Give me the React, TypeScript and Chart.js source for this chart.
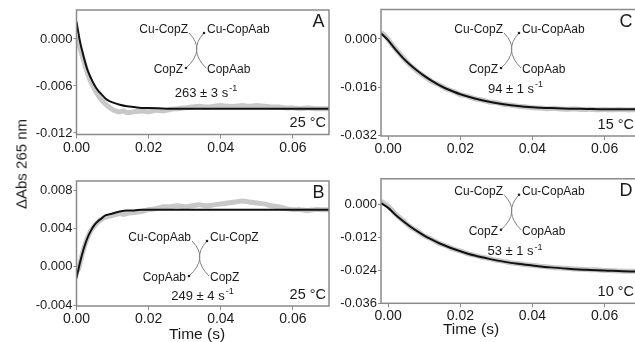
import { useEffect, useRef } from 'react';
import { Chart, registerables } from 'chart.js';
Chart.register(...registerables);

const FONT = "'Liberation Sans', Arial, Helvetica, sans-serif";

// ---------- data ----------
const tFitAB = [0, 0.001, 0.002, 0.003, 0.004, 0.005, 0.006, 0.007, 0.008, 0.009, 0.010, 0.012, 0.014, 0.016, 0.018, 0.020, 0.025, 0.030, 0.040, 0.050, 0.060, 0.070];
const fitA = [0.0022, -0.0004, -0.0023, -0.0039, -0.0050, -0.0059, -0.0066, -0.0071, -0.0076, -0.0079, -0.0081, -0.0084, -0.0086, -0.0087, -0.0088, -0.0088, -0.0089, -0.0089, -0.0089, -0.0089, -0.0089, -0.0089];
const fitB = [-0.0012, 0.0005, 0.0019, 0.0030, 0.0038, 0.0044, 0.0048, 0.0051, 0.0054, 0.0055, 0.0056, 0.0058, 0.0059, 0.0059, 0.0060, 0.0060, 0.0060, 0.0060, 0.0060, 0.0060, 0.0060, 0.0060];

const tDataAB = [0, 0.0005, 0.001, 0.0015, 0.002, 0.003, 0.004, 0.005, 0.006, 0.007, 0.008, 0.009, 0.010, 0.011, 0.012, 0.013, 0.014,
  0.016, 0.018, 0.020, 0.022, 0.024, 0.026, 0.028, 0.030, 0.032, 0.034, 0.036, 0.038, 0.040, 0.042, 0.044, 0.046, 0.048, 0.050,
  0.052, 0.054, 0.056, 0.058, 0.060, 0.062, 0.064, 0.066, 0.068, 0.070];
const dataA = [0.0003, -0.0006, -0.0012, -0.0020, -0.0028, -0.0043, -0.0055, -0.0064, -0.0072, -0.0078, -0.0083, -0.0087, -0.0090, -0.0092, -0.0093, -0.0092, -0.0094,
  -0.0093, -0.0092, -0.0093, -0.0091, -0.0092, -0.0090, -0.0089, -0.0088, -0.0087, -0.0086, -0.0087, -0.0086, -0.0085, -0.0086, -0.0086, -0.0085, -0.0086, -0.0085,
  -0.0086, -0.0087, -0.0087, -0.0088, -0.0088, -0.0089, -0.0088, -0.0089, -0.0089, -0.0089];
const dataB = [0.0002, -0.0003, 0.0004, 0.0012, 0.0019, 0.0030, 0.0038, 0.0043, 0.0047, 0.0050, 0.0052, 0.0053, 0.0054, 0.0055, 0.0056, 0.0055, 0.0056,
  0.0057, 0.0058, 0.0060, 0.0061, 0.0063, 0.0063, 0.0064, 0.0063, 0.0064, 0.0065, 0.0064, 0.0065, 0.0066, 0.0067, 0.0068, 0.0069, 0.0068, 0.0067,
  0.0066, 0.0064, 0.0063, 0.0061, 0.0060, 0.0060, 0.0059, 0.0060, 0.0060, 0.0060];

const tFitCD = [-0.002, 0, 0.002, 0.004, 0.006, 0.008, 0.010, 0.012, 0.014, 0.016, 0.018, 0.020, 0.024, 0.028, 0.032, 0.036, 0.040, 0.045, 0.050, 0.055, 0.060, 0.065, 0.070];
const fitC = [0.0019, -0.0005, -0.0035, -0.0062, -0.0085, -0.0105, -0.0123, -0.0139, -0.0153, -0.0165, -0.0175, -0.0184, -0.0198, -0.0209, -0.0217, -0.0223, -0.0227, -0.0230, -0.0232, -0.0233, -0.0234, -0.0234, -0.0234];
const fitD = [0.0005, -0.0012, -0.0037, -0.0059, -0.0079, -0.0097, -0.0113, -0.0127, -0.0140, -0.0151, -0.0161, -0.0170, -0.0186, -0.0198, -0.0208, -0.0216, -0.0222, -0.0229, -0.0234, -0.0238, -0.0240, -0.0243, -0.0244];

const tDataCD = [-0.002, -0.001, 0, 0.001, 0.002, 0.004, 0.006, 0.008, 0.010, 0.012, 0.014, 0.016, 0.018, 0.020, 0.022, 0.024, 0.026, 0.028, 0.030,
  0.032, 0.034, 0.036, 0.038, 0.040, 0.042, 0.044, 0.046, 0.048, 0.050, 0.052, 0.054, 0.056, 0.058, 0.060, 0.062, 0.064, 0.066, 0.068, 0.070];
const dataC = [0.0022, 0.0012, -0.0002, -0.0018, -0.0033, -0.0061, -0.0086, -0.0107, -0.0124, -0.0141, -0.0152, -0.0166, -0.0174, -0.0185, -0.0190, -0.0199, -0.0203, -0.0210, -0.0212,
  -0.0218, -0.0220, -0.0224, -0.0226, -0.0229, -0.0230, -0.0232, -0.0231, -0.0233, -0.0234, -0.0233, -0.0235, -0.0234, -0.0236, -0.0235, -0.0236, -0.0235, -0.0236, -0.0236, -0.0236];
const dataD = [0.0012, 0.0004, -0.0006, -0.0020, -0.0034, -0.0057, -0.0080, -0.0096, -0.0114, -0.0126, -0.0141, -0.0150, -0.0162, -0.0169, -0.0179, -0.0185, -0.0192, -0.0197, -0.0203,
  -0.0207, -0.0212, -0.0215, -0.0219, -0.0221, -0.0225, -0.0227, -0.0230, -0.0231, -0.0233, -0.0235, -0.0236, -0.0238, -0.0238, -0.0240, -0.0241, -0.0242, -0.0243, -0.0243, -0.0244];

const xTicks = [0, 0.02, 0.04, 0.06];
const xTickLabels = ['0.00', '0.02', '0.04', '0.06'];
const yTicksA = [0, -0.006, -0.012];
const yTickLabelsA = ['0.000', '-0.006', '-0.012'];
const yTicksB = [0.008, 0.004, 0, -0.004];
const yTickLabelsB = ['0.008', '0.004', '0.000', '-0.004'];
const yTicksC = [0, -0.016, -0.032];
const yTickLabelsC = ['0.000', '-0.016', '-0.032'];
const yTicksD = [0, -0.012, -0.024, -0.036];
const yTickLabelsD = ['0.000', '-0.012', '-0.024', '-0.036'];

const speciesForward = ['Cu-CopZ', 'Cu-CopAab', 'CopZ', 'CopAab'];
const speciesReverse = ['Cu-CopAab', 'Cu-CopZ', 'CopAab', 'CopZ'];
const rateLabels = ['263 ± 3 s', '249 ± 4 s', '94 ± 1 s', '53 ± 1 s'];
const rateExponent = '-1';
const tempLabels = ['25 °C', '25 °C', '15 °C', '10 °C'];
const panelLetters = ['A', 'B', 'C', 'D'];
const yAxisTitle = 'ΔAbs 265 nm';
const xAxisTitle = 'Time (s)';

// ---------- layout / style ----------
type Panel = {
  left: number; top: number; width: number; height: number;
  padTop: number; padRight: number; yW: number; xH: number;
  xMin: number; xMax: number; yMin: number; yMax: number;
  yTicks: number[]; yLabels: string[];
  tFit: number[]; fit: number[]; tData: number[]; data: number[];
  species: string[]; rate: string; temp: string; letter: string;
  cross: [number, number]; rateOff: [number, number]; xPad: number;
};

const panels: Panel[] = [
  { left: 0, top: 0, width: 335, height: 160, padTop: 10, padRight: 6, yW: 76.5, xH: 25.5,
    xMin: 0, xMax: 0.07, yMin: -0.0122, yMax: 0.0037, yTicks: yTicksA, yLabels: yTickLabelsA,
    tFit: tFitAB, fit: fitA, tData: tDataAB, data: dataA,
    species: speciesForward, rate: rateLabels[0], temp: tempLabels[0], letter: panelLetters[0],
    cross: [120.5, 40], rateOff: [9, 43], xPad: 1 },
  { left: 0, top: 170, width: 335, height: 172, padTop: 11, padRight: 6, yW: 76.5, xH: 36,
    xMin: 0, xMax: 0.07, yMin: -0.0041, yMax: 0.0090, yTicks: yTicksB, yLabels: yTickLabelsB,
    tFit: tFitAB, fit: fitB, tData: tDataAB, data: dataB,
    species: speciesReverse, rate: rateLabels[1], temp: tempLabels[1], letter: panelLetters[1],
    cross: [123.5, 77], rateOff: [2.5, 38], xPad: 1 },
  { left: 310, top: 0, width: 340, height: 160, padTop: 9.5, padRight: 13, yW: 71, xH: 24,
    xMin: -0.002, xMax: 0.069, yMin: -0.0323, yMax: 0.0098, yTicks: yTicksC, yLabels: yTickLabelsC,
    tFit: tFitCD, fit: fitC, tData: tDataCD, data: dataC,
    species: speciesForward, rate: rateLabels[2], temp: tempLabels[2], letter: panelLetters[2],
    cross: [131, 40.5], rateOff: [3.5, 39], xPad: 1 },
  { left: 310, top: 170, width: 340, height: 172, padTop: 7, padRight: 13, yW: 71, xH: 38.7,
    xMin: -0.002, xMax: 0.069, yMin: -0.036, yMax: 0.0094, yTicks: yTicksD, yLabels: yTickLabelsD,
    tFit: tFitCD, fit: fitD, tData: tDataCD, data: dataD,
    species: speciesForward, rate: rateLabels[3], temp: tempLabels[3], letter: panelLetters[3],
    cross: [131, 33], rateOff: [3, 40], xPad: 0 },
];

const TXT = '#1a1a1a';
const AXIS = '#8a8a8a';

function makeDeco(p: Panel) {
  return {
    id: 'deco' + p.letter,
    afterDatasetsDraw(chart: any) {
      const { ctx, chartArea: a } = chart;
      ctx.save();
      ctx.strokeStyle = AXIS;
      ctx.lineWidth = 1.5;
      ctx.strokeRect(a.left, a.top, a.right - a.left, a.bottom - a.top);

      const cx = a.left + p.cross[0];
      const cy = a.top + p.cross[1];
      ctx.strokeStyle = '#808080';
      ctx.lineWidth = 1;
      ctx.beginPath();
      ctx.moveTo(cx - 8, cy - 17);
      ctx.quadraticCurveTo(cx + 9, cy, cx - 11, cy + 18);
      ctx.stroke();
      ctx.beginPath();
      ctx.moveTo(cx + 9, cy + 18);
      ctx.quadraticCurveTo(cx - 9, cy, cx + 7, cy - 17);
      ctx.stroke();
      ctx.fillStyle = '#222';
      [[cx + 7, cy - 17], [cx - 11, cy + 18]].forEach(([x, y]) => {
        ctx.beginPath();
        ctx.arc(x, y, 1.3, 0, Math.PI * 2);
        ctx.fill();
      });

      ctx.fillStyle = TXT;
      ctx.textBaseline = 'middle';
      ctx.font = `12px ${FONT}`;
      ctx.textAlign = 'right';
      ctx.fillText(p.species[0], cx - 9, cy - 20);
      ctx.fillText(p.species[2], cx - 14, cy + 20);
      ctx.textAlign = 'left';
      ctx.fillText(p.species[1], cx + 10, cy - 20);
      ctx.fillText(p.species[3], cx + 10, cy + 20);

      // rate constant with superscript
      ctx.font = `13px ${FONT}`;
      const w1 = ctx.measureText(p.rate).width;
      ctx.font = `9px ${FONT}`;
      const w2 = ctx.measureText(rateExponent).width;
      const rx = cx + p.rateOff[0] - (w1 + w2 + 1) / 2;
      const ry = cy + p.rateOff[1];
      ctx.textAlign = 'left';
      ctx.font = `13px ${FONT}`;
      ctx.fillText(p.rate, rx, ry);
      ctx.font = `9px ${FONT}`;
      ctx.fillText(rateExponent, rx + w1 + 1, ry - 4.5);

      ctx.textAlign = 'right';
      ctx.font = `18px ${FONT}`;
      ctx.fillText(p.letter, a.right - 4.5, a.top + 12.5);
      ctx.font = `14.5px ${FONT}`;
      ctx.fillText(p.temp, a.right - 3, a.bottom - 11.5);
      ctx.restore();
    },
  };
}

function PanelChart({ p }: { p: Panel }) {
  const ref = useRef<HTMLCanvasElement | null>(null);
  useEffect(() => {
    if (!ref.current) return;
    const chart = new Chart(ref.current, {
      type: 'line',
      data: {
        datasets: [
          {
            data: p.tFit.map((t, i) => ({ x: t, y: p.fit[i] })),
            borderColor: '#111111',
            borderWidth: 2,
            pointRadius: 0,
            cubicInterpolationMode: 'monotone',
            fill: false,
          },
          {
            data: p.tData.map((t, i) => ({ x: t, y: p.data[i] })),
            borderColor: '#c8c8c8',
            borderWidth: 5,
            pointRadius: 0,
            tension: 0.3,
            fill: false,
          },
        ],
      },
      options: {
        responsive: false,
        animation: false,
        events: [],
        layout: { padding: { top: p.padTop, right: p.padRight, left: 0, bottom: 0 } },
        plugins: { legend: { display: false }, tooltip: { enabled: false }, title: { display: false } },
        scales: {
          x: {
            type: 'linear',
            min: p.xMin,
            max: p.xMax,
            afterFit: (s: any) => { s.height = p.xH; },
            afterBuildTicks: (s: any) => { s.ticks = xTicks.map((v) => ({ value: v })); },
            ticks: {
              callback: (_v: any, i: number) => xTickLabels[i],
              font: { family: FONT, size: 14 },
              color: TXT,
              padding: p.xPad,
              maxRotation: 0,
              autoSkip: false,
            },
            grid: { display: true, drawOnChartArea: false, drawTicks: true, tickLength: 4, color: AXIS },
            border: { display: false },
          },
          y: {
            type: 'linear',
            min: p.yMin,
            max: p.yMax,
            afterFit: (s: any) => { s.width = p.yW; },
            afterBuildTicks: (s: any) => { s.ticks = p.yTicks.map((v) => ({ value: v })); },
            ticks: {
              callback: (_v: any, i: number) => p.yLabels[i],
              font: { family: FONT, size: 13 },
              color: TXT,
              padding: 1,
              autoSkip: false,
            },
            grid: { display: true, drawOnChartArea: false, drawTicks: true, tickLength: 3, color: AXIS },
            border: { display: false },
          },
        },
      },
      plugins: [makeDeco(p)],
    } as any);
    return () => chart.destroy();
  }, [p]);
  return (
    <canvas
      ref={ref}
      width={p.width}
      height={p.height}
      style={{ position: 'absolute', left: p.left, top: p.top, width: p.width, height: p.height }}
    />
  );
}

export default function App() {
  const label: React.CSSProperties = {
    position: 'absolute',
    transform: 'translate(-50%, -50%)',
    whiteSpace: 'nowrap',
    color: TXT,
    fontFamily: FONT,
    lineHeight: 1,
  };
  return (
    <div style={{ position: 'fixed', left: 0, top: 0, width: 635, height: 342, overflow: 'hidden', background: '#fff' }}>
      {panels.map((p) => <PanelChart key={p.letter} p={p} />)}
      <div style={{ ...label, left: 21, top: 164, fontSize: 15, transform: 'translate(-50%, -50%) rotate(-90deg)' }}>{yAxisTitle}</div>
      <div style={{ ...label, left: 197, top: 334, fontSize: 15.5 }}>{xAxisTitle}</div>
      <div style={{ ...label, left: 471, top: 329, fontSize: 15.5 }}>{xAxisTitle}</div>
    </div>
  );
}
